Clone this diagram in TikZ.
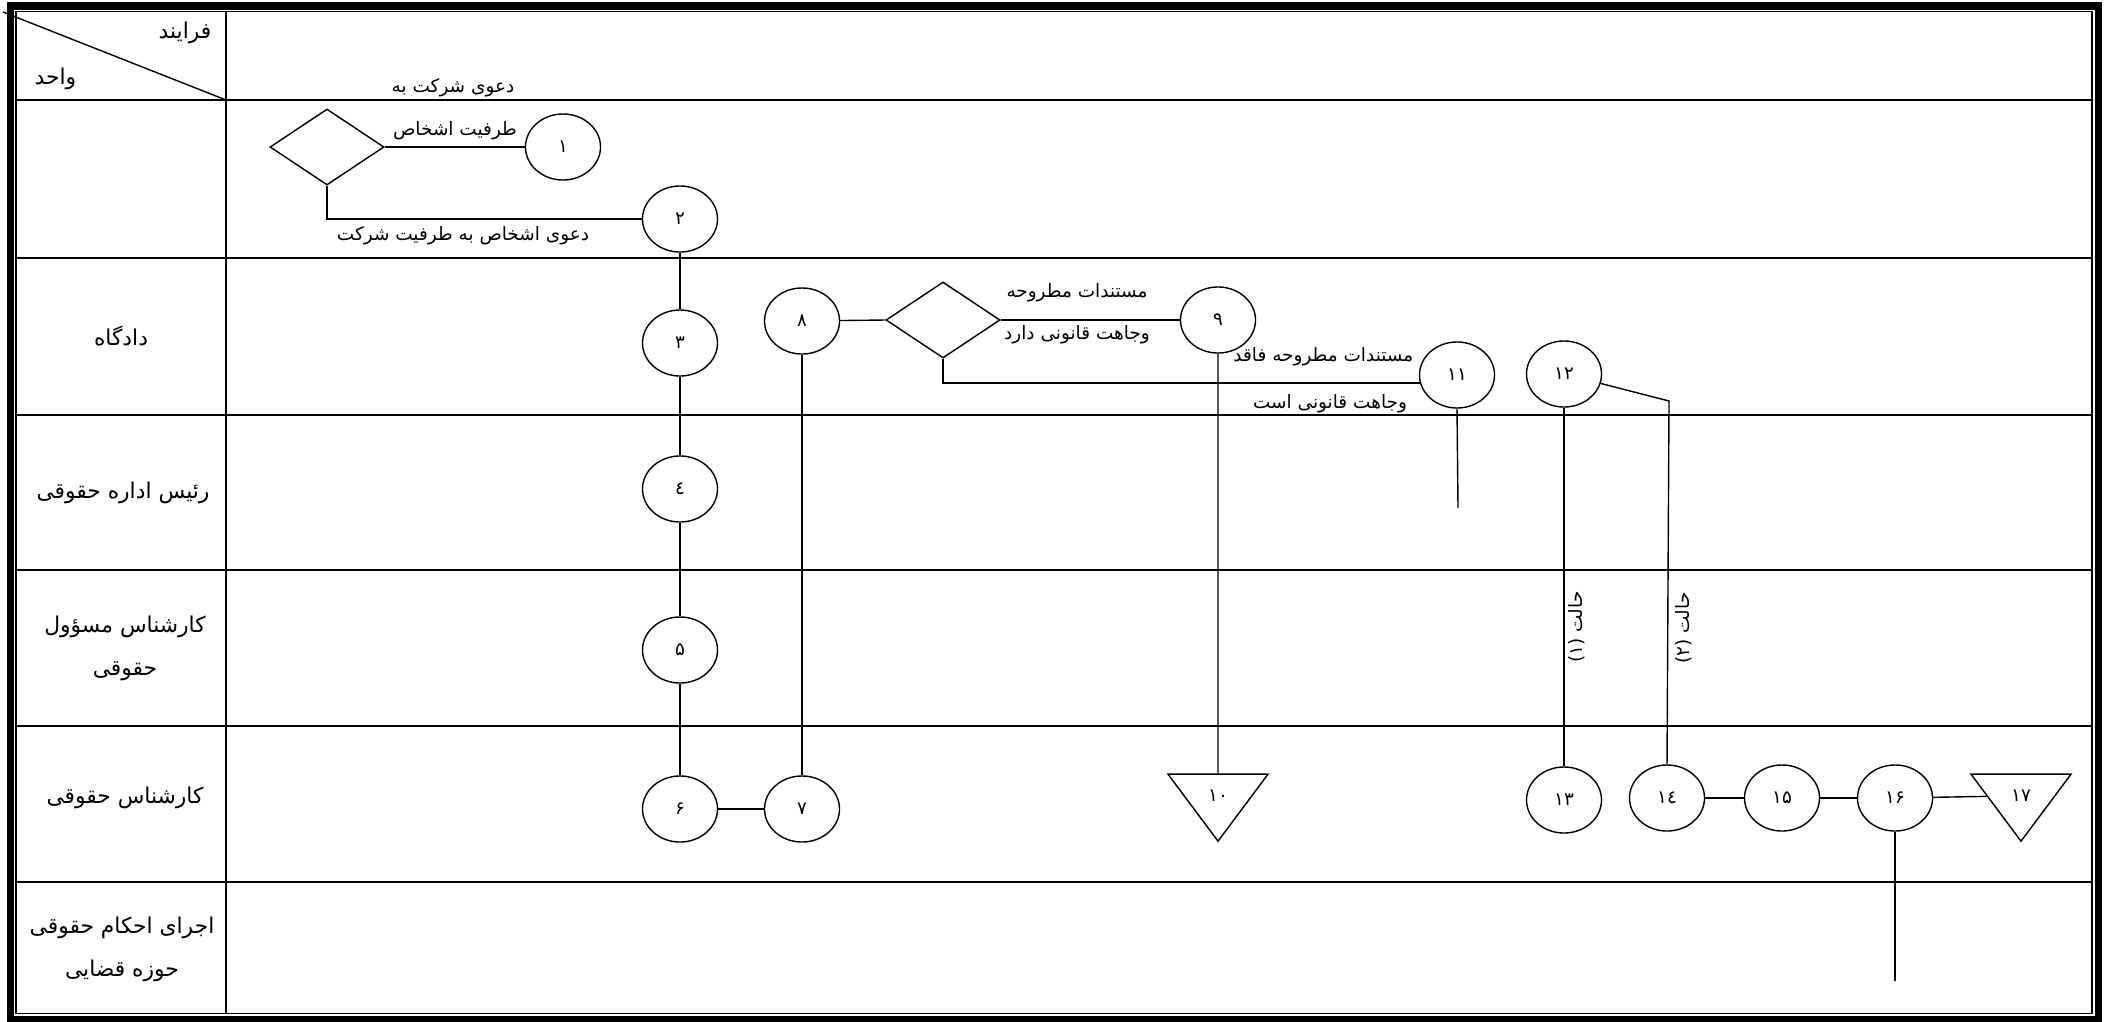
\documentclass[tikz,border=0pt]{standalone}
\usepackage{fontspec}
\newfontfamily\arabicfont[Script=Arabic]{DejaVu Sans}
\newfontfamily\numfont{DejaVu Sans}
\TeXXeTstate=1
\usepackage{tikz}
\usetikzlibrary{shapes}
\usetikzlibrary{shapes.geometric}
\usetikzlibrary{positioning}
\newcommand \fa [1] {\beginR #1\endR}
\tikzstyle{act}=[ellipse,draw=black,inner sep=0mm,minimum width=0.75cm,minimum height=0.66cm,font=\numfont\fontsize{5.2}{6}\selectfont]
\tikzstyle{decide}=[diamond,draw=black,inner sep=0mm,minimum width=1.14cm,minimum height=0.76cm]
\tikzstyle{halt}=[isosceles triangle,isosceles triangle stretches,shape border rotate=-90,draw=black,inner sep=0mm,minimum width=1cm,minimum height=0.67cm,font=\numfont\fontsize{5.2}{6}\selectfont]
\tikzstyle{flow}=[inner sep=0mm,font=\arabicfont\fontsize{5.25}{6.5}\selectfont]
\tikzstyle{unit}=[inner sep=0mm,align=center,font=\arabicfont\fontsize{6.2}{12.2}\selectfont]
\tikzstyle{grid}=[line width=0.5pt]
\tikzset{every picture/.style={
    line width=0.4pt
  }
}

\begin{document}
\begin{tikzpicture}[x=0.01cm,y=-0.01cm]
          \useasboundingbox (0,0) rectangle (2107,1021);
          % frame and lanes
          \draw[line width=2pt] (10.5,6) rectangle (2098.5,1019);
          \draw[line width=0.45pt] (16,11.5) rectangle (2092,1013.5);
          \draw[grid] (226,11.5) -- (226,1013.5);
          \draw[grid] (16,100) -- (2092,100);
          \draw[grid] (16,258) -- (2092,258);
          \draw[grid] (16,415) -- (2092,415);
          \draw[grid] (16,570) -- (2092,570);
          \draw[grid] (16,726) -- (2092,726);
          \draw[grid] (16,882) -- (2092,882);
          \draw (3,12) -- (226,100);
          \node[unit,anchor=east] at (212,33) (process) {\fa{فرایند}};
          \node[unit,anchor=west] at (34,79) (unit) {\fa{واحد}};
          \node[unit] at (121,336) (court) {\fa{دادگاه}};
          \node[unit] at (123,493) (head) {\fa{رئیس اداره حقوقی}};
          \node[unit] at (125,648) (officer) {\fa{کارشناس مسؤول}\\\fa{حقوقی}};
          \node[unit] at (125,798) (expert) {\fa{کارشناس حقوقی}};
          \node[unit] at (122,949) (exec) {\fa{اجرای احکام حقوقی}\\\fa{حوزه قضایی}};
          % steps
          \node[decide] at (327,147) (d1) {};
          \node[act] at (563,147) (s1) {۱};
          \node[act] at (680,219) (s2) {۲};
          \node[act] at (680,343) (s3) {۳};
          \node[act] at (680,489) (s4) {٤};
          \node[act] at (680,650) (s5) {۵};
          \node[act] at (680,809) (s6) {۶};
          \node[act] at (802,809) (s7) {۷};
          \node[act] at (802,321) (s8) {۸};
          \node[decide] at (943,320) (d2) {};
          \node[act] at (1218,320) (s9) {۹};
          \node[halt,anchor=apex] at (1218,843) (s10) {۱۰};
          \node[act] at (1457,375) (s11) {۱۱};
          \node[act] at (1564,374) (s12) {۱۲};
          \node[act] at (1564,800) (s13) {۱۳};
          \node[act] at (1667,798) (s14) {۱٤};
          \node[act] at (1782,798) (s15) {۱۵};
          \node[act] at (1895,798) (s16) {۱۶};
          \node[halt,anchor=apex] at (2021,843) (s17) {۱۷};
          \coordinate (e11) at (1458,508);
          \coordinate (k12) at (1669,401);
          \coordinate (e16) at (1895,981);
          % connectors
          \draw (d1.east)--(s1);
          \draw (d1.south) |- (s2.west);
          \draw (s2)--(s3);
          \draw (s3)--(s4);
          \draw (s4)--(s5);
          \draw (s5)--(s6);
          \draw (s6)--(s7);
          \draw (s8)--(s7);
          \draw (s8)--(d2.west);
          \draw (d2.east)--(s9);
          \draw (d2.south) |- (s11.192);
          \draw (s9)--(s10);
          \draw (s11.south)--(e11);
          \draw (s12)--(k12)--(s14.north);
          \draw (s12)--(s13);
          \draw (s14)--(s15);
          \draw (s15)--(s16);
          \draw (s16)--(s17);
          \draw (s16.south)--(e16);
          % labels
          \node[flow] at (453,88) (l1) {\fa{دعوی شرکت به}};
          \node[flow] at (455,131) (l2) {\fa{طرفیت اشخاص}};
          \node[flow] at (463,236) (l3) {\fa{دعوی اشخاص به طرفیت شرکت}};
          \node[flow] at (1077,293) (l4) {\fa{مستندات مطروحه}};
          \node[flow] at (1077,335) (l5) {\fa{وجاهت قانونی دارد}};
          \node[flow,anchor=east] at (1414,357) (l6) {\fa{مستندات مطروحه فاقد}};
          \node[flow] at (1330,404) (l7) {\fa{وجاهت قانونی است}};
          \node[flow,rotate=90] at (1577,627) (c1) {{\numfont (۱)} \fa{حالت}};
          \node[flow,rotate=90] at (1684,628) (c2) {{\numfont (۲)} \fa{حالت}};
        \end{tikzpicture}
\end{document}
